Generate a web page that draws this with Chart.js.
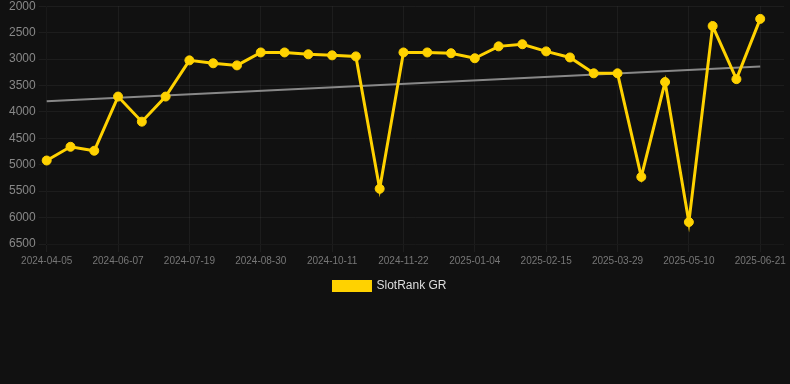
<!DOCTYPE html>
<html lang="en">
<head>
    <meta charset="UTF-8">
    <title>SlotRank GR</title>
    <script src="https://cdn.jsdelivr.net/npm/chart.js"></script>
    <style>
        html, body { margin: 0; padding: 0; background: #111111; overflow: hidden; }
        .canva { position: relative; top: -4px; width: 790px; height: 306px; }
    </style>
</head>
<body>
    <div class="canva">
        <canvas id="myChartCanvas"></canvas>
    </div>

<script>
    // datas (so os rotulos 0,3,6,... aparecem no eixo)
    const datas = [
        '2024-04-05', '2024-04-26', '2024-05-17', '2024-06-07', '2024-06-21', '2024-07-05',
        '2024-07-19', '2024-08-02', '2024-08-16', '2024-08-30', '2024-09-13', '2024-09-27',
        '2024-10-11', '2024-10-25', '2024-11-08', '2024-11-22', '2024-12-06', '2024-12-20',
        '2025-01-04', '2025-01-18', '2025-02-01', '2025-02-15', '2025-03-01', '2025-03-15',
        '2025-03-29', '2025-04-12', '2025-04-26', '2025-05-10', '2025-05-24', '2025-06-07',
        '2025-06-21', '2025-07-05'
    ];

    // posicao no ranking
    const rankGR = [
        4920, 4660, 4735, 3710, 4185, 3710, 3025, 3080, 3120, 2875, 2875, 2910,
        2930, 2950, 5455, 2875, 2875, 2890, 2985, 2760, 2720, 2855, 2970, 3270,
        3270, 5230, 3435, 6085, 2375, 3380, 2240, null
    ];

    // linha de tendencia (inicio e fim)
    const tendencia = [3800, null, null, null, null, null, null, null, null, null, null, null,
        null, null, null, null, null, null, null, null, null, null, null, null,
        null, null, null, null, null, null, 3140, null];

    const yTicks = { min: 2000, max: 6500, step: 500 };

    const fonte = 'Liberation Sans, Arial, sans-serif';

    const dados = {
        labels: datas,
        datasets: [{
            label: 'SlotRank GR',
            data: rankGR,
            borderColor: 'rgb(255, 210, 0)',
            backgroundColor: 'rgb(255, 210, 0)',
            borderWidth: 3,
            pointRadius: 4.5,
            pointBorderWidth: 1,
            pointHoverRadius: 5,
            tension: 0,
            fill: false
        },
        {
            label: 'trend',
            data: tendencia,
            borderColor: 'rgba(150, 150, 150, 0.9)',
            borderWidth: 2,
            pointRadius: 0,
            spanGaps: true,
            fill: false
        }]
    };

    // puxa a legenda um pouco para a esquerda
    const legendaEsq = {
        id: 'legendaEsq',
        afterLayout(chart) {
            if (chart.legend) chart.legend.right -= 16;
        }
    };

    const config = {
        type: 'line',
        data: dados,
        plugins: [legendaEsq],
        options: {
            responsive: true,
            maintainAspectRatio: false,
            animation: false,
            layout: { padding: { left: 6, right: 0, top: 0, bottom: 0 } },
            plugins: {
                legend: {
                    position: 'bottom',
                    labels: {
                        color: '#dddddd',
                        boxWidth: 37,
                        boxHeight: 9,
                        font: { size: 12, family: fonte },
                        filter: (item) => item.text !== 'trend'
                    }
                },
                tooltip: { enabled: false }
            },
            scales: {
                x: {
                    grid: { color: 'rgba(255,255,255,0.05)' },
                    ticks: {
                        color: '#777777',
                        maxRotation: 0,
                        autoSkip: true,
                        font: { size: 10, family: fonte }
                    }
                },
                y: {
                    reverse: true,
                    min: yTicks.min,
                    max: yTicks.max,
                    grid: { color: 'rgba(255,255,255,0.05)' },
                    ticks: {
                        stepSize: yTicks.step,
                        color: '#888888',
                        font: { size: 12, family: fonte },
                        callback: (v) => String(v)
                    }
                }
            }
        }
    };

    new Chart(document.getElementById('myChartCanvas'), config);
</script>
</body>
</html>
